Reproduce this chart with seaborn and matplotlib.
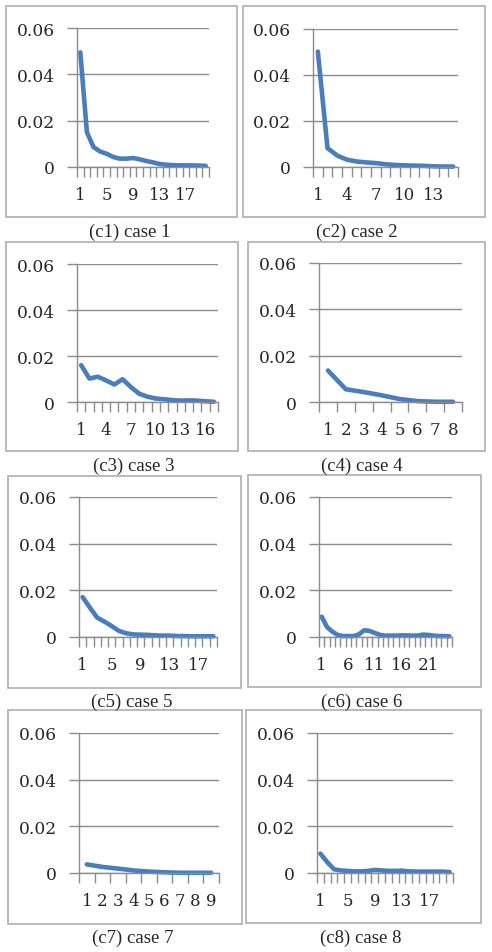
import seaborn as sns
import matplotlib.pyplot as plt
from matplotlib.patches import Rectangle

# values
case1 = [0.0495, 0.015, 0.0086, 0.0067, 0.0057, 0.0043, 0.0036, 0.0036, 0.0039, 0.0033,
         0.0026, 0.002, 0.0013, 0.001, 0.0008, 0.0007, 0.0007, 0.0007, 0.0006, 0.0005]
case2 = [0.0502, 0.0082, 0.005, 0.0032, 0.0024, 0.002, 0.0017, 0.0012, 0.0009, 0.0007,
         0.0006, 0.0005, 0.0003, 0.0002, 0.0002]
case3 = [0.016, 0.0102, 0.011, 0.0094, 0.0076, 0.0099, 0.0065, 0.0036, 0.0023, 0.0015,
         0.0012, 0.0008, 0.0006, 0.0007, 0.0006, 0.0003, 0.0001]
case4 = [0.0136, 0.0055, 0.0043, 0.0029, 0.0013, 0.0004, 0.0001, 0.0001]
case5 = [0.0171, 0.0126, 0.0083, 0.0066, 0.0047, 0.0026, 0.0016, 0.0011, 0.001, 0.0009,
         0.0007, 0.0006, 0.0006, 0.0004, 0.0004, 0.0003, 0.0003, 0.0003, 0.0003]
case6 = [0.0087, 0.0043, 0.0023, 0.0009, 0.0004, 0.0004, 0.0004, 0.0011, 0.0029, 0.0026,
         0.0017, 0.0009, 0.0006, 0.0006, 0.0006, 0.0007, 0.0007, 0.0006, 0.0006, 0.001,
         0.0009, 0.0006, 0.0004, 0.0004, 0.0003]
case7 = [0.0037, 0.0026, 0.0019, 0.0011, 0.0006, 0.0003, 0.0001, 0.0001, 0.0001]
case8 = [0.0083, 0.0047, 0.0016, 0.0011, 0.0009, 0.0007, 0.0007, 0.0009, 0.0013, 0.0011,
         0.0009, 0.0009, 0.001, 0.0007, 0.0006, 0.0006, 0.0006, 0.0006, 0.0006, 0.0004]

all_cases = [case1, case2, case3, case4, case5, case6, case7, case8]

# x labels shown on each category axis
xlabels = [
    [1, 5, 9, 13, 17],
    [1, 4, 7, 10, 13],
    [1, 4, 7, 10, 13, 16],
    [1, 2, 3, 4, 5, 6, 7, 8],
    [1, 5, 9, 13, 17],
    [1, 6, 11, 16, 21],
    [1, 2, 3, 4, 5, 6, 7, 8, 9],
    [1, 5, 9, 13, 17],
]
captions = ['(c1) case 1', '(c2) case 2', '(c3) case 3', '(c4) case 4',
            '(c5) case 5', '(c6) case 6', '(c7) case 7', '(c8) case 8']
yticks = [0, 0.02, 0.04, 0.06]
ylabels = ['0', '0.02', '0.04', '0.06']

sns.set_style('white')
plt.rcParams['font.family'] = ['DejaVu Serif']

W, H = 492, 953
fig = plt.figure(figsize=(W / 100, H / 100), dpi=100)

# pixel boxes (left, top, right, bottom): frame, axes, caption centre
frames = [(6, 7, 237, 218), (243, 7, 485, 218),
          (6, 243, 238, 452), (248, 243, 485, 452),
          (8, 477, 241, 689), (248, 476, 481, 688),
          (8, 711, 242, 925), (246, 711, 481, 924)]
axboxes = [(77, 29, 209, 168), (313, 30, 458, 168),
           (77, 265, 218, 403), (319, 264, 462, 403),
           (79, 498, 217, 638), (319, 498, 452, 638),
           (79, 734, 219, 874), (317, 734, 453, 874)]
capxy = [(130, 232), (357, 232), (134, 466), (362, 466),
         (132, 702), (362, 702), (133, 938), (361, 938)]

line_col = '#4a7ebb'
grid_col = '#8c8c8c'

for i, vals in enumerate(all_cases):
    l, t, r, b = frames[i]
    fig.patches.append(Rectangle((l / W, 1 - b / H), (r - l) / W, (b - t) / H,
                                 transform=fig.transFigure, fill=False,
                                 edgecolor='#b4b4b4', linewidth=1.3))
    l, t, r, b = axboxes[i]
    ax = fig.add_axes([l / W, 1 - b / H, (r - l) / W, (b - t) / H])
    n = len(vals)
    xs = list(range(1, n + 1))
    sns.lineplot(x=xs, y=vals, ax=ax, color=line_col, linewidth=3.3)
    for ln in ax.lines:
        ln.set_clip_on(False)
        ln.set_solid_capstyle('round')
        ln.set_solid_joinstyle('round')
    ax.set_xlim(0.5, n + 0.5)
    ax.set_ylim(0, 0.06)
    ax.set_yticks(yticks)
    ax.set_yticklabels(ylabels)
    ax.set_xticks(xlabels[i])
    ax.set_xticklabels([str(v) for v in xlabels[i]])
    ax.set_xticks([k + 0.5 for k in range(0, n + 1)], minor=True)
    ax.tick_params(axis='x', which='major', length=0, pad=14, labelsize=12)
    ax.tick_params(axis='x', which='minor', length=7, width=1, color=grid_col,
                   direction='out', bottom=True)
    ax.tick_params(axis='y', which='major', length=7, width=1, color=grid_col,
                   direction='out', left=True, pad=9, labelsize=12.3)
    ax.yaxis.grid(True, color=grid_col, linewidth=1)
    ax.set_axisbelow(True)
    for s in ['top', 'right']:
        ax.spines[s].set_visible(False)
    for s in ['left', 'bottom']:
        ax.spines[s].set_color(grid_col)
        ax.spines[s].set_linewidth(1)
    cx, cy = capxy[i]
    fig.text(cx / W, 1 - cy / H, captions[i], ha='center', va='center',
             fontsize=13.5, family=['Liberation Serif'])

fig.savefig('out.png', dpi=100)
